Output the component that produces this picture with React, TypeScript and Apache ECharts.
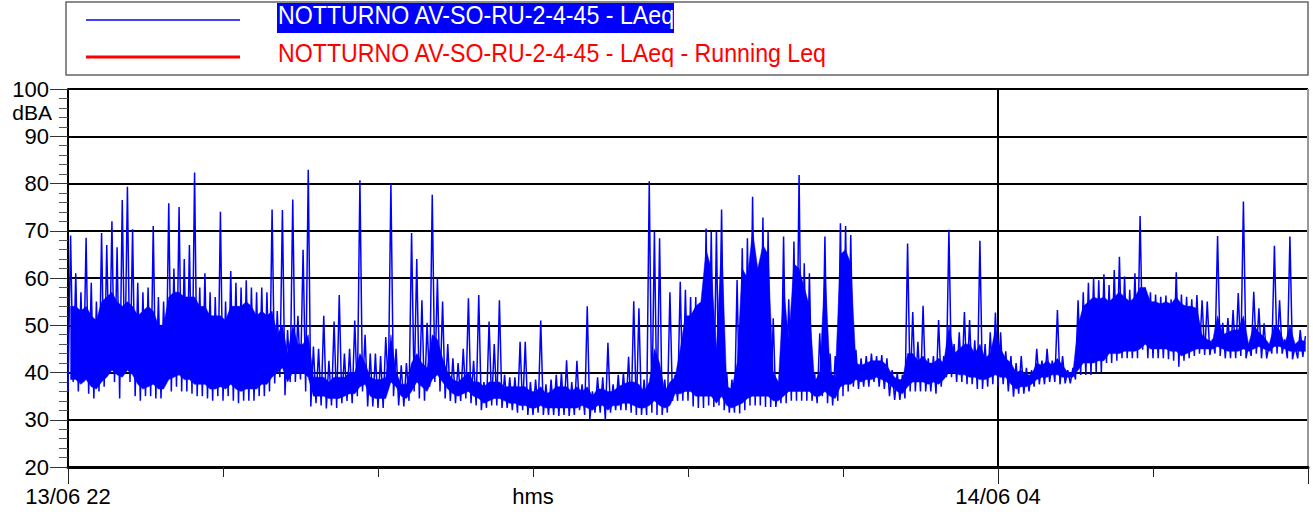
import React, { useEffect, useRef } from "react";
import * as echarts from "echarts";

// Envelope of the LAeq trace, read per 2-minute column starting 13/06 22:00 (dBA)
// hiVals / loVals: extreme peaks and dips; coreHi / coreLo: the solid, densely filled band
const hiVals = [
  69, 61, 57, 68.5, 59, 55, 69.5, 67, 72, 66.5,
  76.5, 79.3, 70.3, 59, 57, 58, 71, 56, 55, 75.8,
  62, 75, 64, 67, 82.3, 58, 61, 57, 56, 74,
  55, 61.5, 59, 58, 59.5, 58, 57, 58, 57, 74.5,
  53, 74.4, 49, 76.6, 52, 66, 82.9, 45.5, 45, 52,
  42.5, 50.8, 56.4, 44, 45, 51, 80.7, 48, 44, 44,
  43.5, 47.5, 80, 45, 41.5, 42, 69.5, 64, 55.3, 50.5,
  77.6, 60, 55, 46, 43, 42, 45, 55.7, 42.5, 56.4,
  38, 50.8, 46, 55.3, 39.5, 39, 39, 46.5, 46.5, 38,
  38.5, 51, 37.5, 38.5, 39.5, 40, 42.6, 38, 42.5, 37.5,
  54, 36, 39, 39, 46.3, 37.5, 39.5, 40, 43.3, 55.1,
  53.6, 38.5, 80.5, 69.8, 68.4, 38.5, 57, 39.5, 59.2, 57.5,
  56,
  56, 51.8, 70.5, 69.8, 70, 74.5, 40, 38.5, 59.6, 66.3,
  68.4, 77.2, 61, 72.8, 69.8, 51.5, 38, 68.8, 55.5, 67.7,
  81.8, 63.1, 61, 40, 48.3, 68.8, 44, 43.5, 71.6, 71,
  69.1, 44.8, 43, 43.5, 44, 43.5, 43.7, 43, 40.5, 40,
  39.5, 67.3, 52.8, 46.5, 54.1, 43, 43.5, 51.1, 43.5, 70.2,
  46, 48.5, 52.8, 51.1, 46.8, 67.9, 46, 48.5, 52.7, 48.5,
  44.5, 43.5, 42, 43.5, 41, 40.5, 45, 42.5, 45, 42.5,
  53.2, 43.5, 40.5, 41, 55.3, 57, 59, 60.1, 59.5, 60.8,
  58.5, 61.7, 64.5, 60.3, 57.5, 61, 73.1, 58, 57, 56.5,
  56, 56.3, 55.5, 61.2, 56.5, 56, 55.5, 56.4, 55.3, 55,
  47, 68.9, 50.5, 51.5, 53.2, 56.8, 76.2, 46, 57.1, 53.6,
  50.4, 46, 66.8, 55.3, 47, 68.8, 45.5, 49, 47.7,
];

const loVals = [
  36, 38, 36, 38, 35.5, 34.5, 36, 37, 40, 38,
  34.5, 40, 38, 35, 34, 35, 35, 34.5, 34.5, 38,
  36, 37, 36, 36, 35.5, 35, 35, 34.5, 34, 35,
  34, 35, 34, 33.5, 34, 34, 34, 35, 35, 36,
  37.7, 39, 35.2, 38, 38, 38.5, 36, 32.8, 33.5, 33,
  32.4, 33, 32.5, 33.5, 34, 33.5, 35, 36, 32.8, 32.8,
  32.5, 32.5, 37, 35, 33, 32.8, 34, 36, 34.5, 34,
  37, 38, 36, 34.5, 34, 33.5, 34, 34.5, 33.5, 33,
  32, 32.5, 33, 33, 32.5, 32.5, 32, 31.5, 32, 31,
  31, 31.5, 31, 31, 31, 30.8, 31, 30.8, 31, 32,
  31, 30, 31.5, 31.5, 30, 31.5, 32, 32, 32, 31.5,
  31, 31, 31, 31.5, 31, 31, 31.5, 34, 34, 34,
  34,
  32.8, 32.5, 32.5, 33, 32.7, 33, 32, 31.5, 31.5, 31.3,
  32, 33, 33, 33, 32.7, 32.7, 32.7, 33.5, 33.5, 34,
  34, 34, 34, 34, 33.5, 35, 33.5, 33, 34, 35,
  36, 37, 36.5, 37, 37, 38, 37, 36.5, 35, 34.2,
  34.2, 34.5, 36, 36, 36, 36, 36, 35.5, 37, 39,
  39, 38, 38, 37.5, 37.5, 36.5, 36.5, 37, 37.5, 37,
  37.5, 36, 34.9, 35.5, 35.5, 36, 37, 37.5, 37.5, 38,
  38, 37.5, 37.7, 37.7, 38.5, 39.5, 39.5, 39.5, 40, 40,
  42, 42, 42.5, 43, 43, 43, 43, 44.8, 43, 43,
  43, 43, 42.8, 42.5, 41.2, 42.5, 43, 43.5, 44, 43.7,
  43.7, 44, 43.5, 43, 43, 43, 43.5, 43, 43.5, 44,
  43, 43, 44, 44, 44, 43, 42.8, 43, 43.3,
];

const coreLo = [
  38.5, 38.5, 37.5, 38.5, 37, 36.5, 38, 39, 40.5, 39.5,
  39, 40.5, 39.5, 37.5, 36.5, 37, 37.5, 36.5, 36.5, 38.5,
  39, 39.5, 38.5, 38.5, 37.5, 37.5, 37.5, 36.5, 36.5, 37,
  36.5, 37.5, 36.5, 36, 36.5, 36.5, 36.5, 37.5, 37.5, 39,
  40, 41, 38, 40, 40, 40, 39, 35, 35, 35,
  34.5, 34.5, 34.5, 35, 35.5, 35.5, 37, 37.5, 35, 34.5,
  34.5, 34.5, 38, 37, 35, 34.5, 36, 38, 37, 36,
  38.5, 39.5, 38, 36.5, 35.5, 35, 35.5, 36, 35, 34.5,
  33.5, 34, 34.5, 34.5, 34, 33.5, 33.5, 33, 33, 32.5,
  32.5, 33, 32.5, 32.5, 32.5, 32.5, 32.5, 32.5, 32.5, 33,
  32.5, 32, 33, 33, 32, 33, 33, 33.5, 33.5, 33,
  32.5, 32.5, 33, 34, 33, 32.5, 33, 35.5, 35.5, 36,
  36,
  35, 35, 35, 35, 33.5, 35, 33, 32.5, 33, 33.5,
  34.5, 35, 35, 35, 35, 34, 34, 35, 36, 36,
  36, 36, 36, 35, 35, 36, 35, 34.5, 37, 37.5,
  37.5, 38.5, 38, 38.5, 38.5, 39, 38.5, 38, 37, 36,
  35.5, 37, 38, 38, 38, 37.5, 38, 37.5, 38.5, 40,
  40, 39.5, 39.5, 39, 39, 38.5, 38.5, 39, 39.5, 39,
  39, 37.5, 36.5, 37, 37, 37.5, 38.5, 39, 39, 39.5,
  39.5, 39, 39, 39, 40.5, 42, 42, 42, 42.5, 42.5,
  44, 44, 44, 44.5, 44.5, 44.5, 45, 46, 45, 45,
  45, 45, 44.5, 44.5, 43.5, 44, 44.5, 45, 45, 45,
  45, 45.5, 45, 44.5, 44.5, 44.5, 45, 44.5, 45, 45.5,
  45, 44.5, 45.5, 45.5, 45, 44.5, 44.5, 44.5, 44.5,
];

const coreHi = [
  54, 54, 53, 54, 52, 51, 55, 56, 57, 55,
  54, 55, 54, 52, 53, 54, 53, 50, 50, 56,
  57, 57, 56, 56, 56, 54, 54, 52, 52, 52,
  51, 54, 54, 54, 55, 54, 52, 53, 52, 53,
  48, 50, 44, 50, 46, 46, 48, 39, 39, 39,
  38, 39, 39, 39, 40, 40, 44, 42, 39, 38.5,
  38.5, 39, 48, 40, 37.5, 37.5, 42, 44, 42, 41,
  48, 47, 43, 40, 38.5, 38, 39, 40, 38, 38,
  37, 38, 38, 38, 37, 37, 37, 37, 37, 36,
  36, 37, 35.5, 36, 37, 37, 37, 36, 37, 36,
  37, 35, 36.5, 36.5, 36, 36, 37, 37.5, 38, 38,
  37.5, 36, 38, 45, 42, 36, 38, 39, 45, 52,
  52,
  54, 55, 66, 62, 45, 68, 37, 36.5, 42, 62,
  60, 70, 62, 67, 65, 40, 38, 58, 47, 63,
  62, 58, 54, 38, 40, 62, 40, 39, 65, 66,
  63, 42, 41.5, 42, 42.5, 42.5, 42.5, 41.5, 39.5, 38.5,
  38.5, 44, 44, 42.5, 43.5, 42, 42, 43, 42, 50,
  44, 45, 46, 46, 44, 46, 43, 44, 49, 45,
  43, 42, 40, 40.5, 39.5, 39.5, 42, 41.5, 42.5, 41.5,
  43, 41.5, 40, 40, 50, 54, 55, 56, 55.5, 56,
  55, 56, 57, 56, 55, 56, 58, 58, 55, 55,
  54.5, 55, 54.5, 56, 54.5, 54, 54, 53.5, 48, 47,
  46.5, 52, 48, 48.5, 49, 49, 52, 46, 50, 48.5,
  47.5, 46, 50, 49, 46, 50, 46, 47, 46.5,
];

const columnMinutes = 2;
const xLabelMinutes = [0, 180, 360];
const xLabelTexts = ["13/06 22", "hms", "14/06 04"];
const seriesName = "NOTTURNO AV-SO-RU-2-4-45 - LAeq";
const runningName = "NOTTURNO AV-SO-RU-2-4-45 - LAeq - Running Leq";
const yUnit = "dBA";

const FONT = "'Liberation Sans', Arial, Helvetica, sans-serif";
const BLUE = "#0000ff";

export default function App() {
  const ref = useRef<HTMLDivElement>(null);

  useEffect(() => {
    if (!ref.current) return;
    const chart = echarts.init(ref.current, undefined, { renderer: "svg" });

    const traceData: [number, number][] = [];
    for (let k = 0; k < hiVals.length; k++) {
      traceData.push([k * columnMinutes, loVals[k]]);
      traceData.push([k * columnMinutes + columnMinutes / 2, hiVals[k]]);
    }
    // one row per column: [x, coreLo, coreHi]
    const bandRows: [number, number, number][] = coreLo.map((v, k) => [
      k * columnMinutes + columnMinutes / 2,
      v,
      coreHi[k],
    ]);

    chart.setOption({
      animation: false,
      backgroundColor: "#ffffff",
      textStyle: { fontFamily: FONT },
      grid: { left: 68, right: 5, top: 89, bottom: 48, containLabel: false },
      xAxis: [
        {
          type: "value",
          min: 0,
          max: 480,
          interval: 60,
          axisLine: { show: true, onZero: false, lineStyle: { color: "#000", width: 3 } },
          axisTick: { show: true, length: 10, lineStyle: { color: "#222", width: 1 } },
          axisLabel: {
            show: true,
            margin: 18,
            fontSize: 22,
            color: "#000",
            fontFamily: FONT,
            formatter: (v: number) => {
              const i = xLabelMinutes.indexOf(v);
              return i >= 0 ? xLabelTexts[i] : "";
            },
          },
          splitLine: { show: false },
        },
        {
          type: "value",
          min: 0,
          max: 480,
          interval: 360,
          position: "bottom",
          axisLine: { show: false },
          axisTick: { show: true, length: 17, lineStyle: { color: "#222", width: 1 } },
          axisLabel: { show: false },
          splitLine: { show: true, lineStyle: { color: ["#000", "#000", "#999"], width: 2 } },
        },
      ],
      yAxis: {
        type: "value",
        min: 20,
        max: 100,
        interval: 10,
        axisLine: { show: true, lineStyle: { color: "#000", width: 2 } },
        axisTick: { show: true, length: 18, lineStyle: { color: "#333", width: 1 } },
        minorTick: { show: true, splitNumber: 5, length: 9, lineStyle: { color: "#555", width: 1 } },
        axisLabel: { margin: 19, fontSize: 22, color: "#000", fontFamily: FONT },
        splitLine: { show: true, lineStyle: { color: "#000", width: 2 } },
      },
      series: [
        {
          name: "band",
          type: "custom",
          xAxisIndex: 0,
          data: [[0]],
          silent: true,
          clip: true,
          z: 2,
          renderItem: (_params: any, api: any) => {
            const upper = bandRows.map((r) => api.coord([r[0], r[2]]));
            const lower = bandRows
              .slice()
              .reverse()
              .map((r) => api.coord([r[0], r[1]]));
            return {
              type: "polygon",
              shape: { points: upper.concat(lower) },
              style: { fill: BLUE, stroke: BLUE, lineWidth: 0.5 },
            };
          },
        },
        {
          name: seriesName,
          type: "line",
          xAxisIndex: 0,
          data: traceData,
          showSymbol: false,
          symbol: "none",
          lineStyle: { color: BLUE, width: 1.5 },
          z: 3,
        },
      ],
      graphic: [
        {
          type: "rect",
          shape: { x: 66, y: 2, width: 1242, height: 73 },
          style: { fill: "#fff", stroke: "#666", lineWidth: 1.5 },
          z: 10,
        },
        {
          type: "line",
          shape: { x1: 86, y1: 20, x2: 240, y2: 20 },
          style: { stroke: BLUE, lineWidth: 1.5 },
          z: 11,
        },
        {
          type: "line",
          shape: { x1: 86, y1: 57, x2: 240, y2: 57 },
          style: { stroke: "#ff0000", lineWidth: 3 },
          z: 11,
        },
        {
          type: "rect",
          shape: { x: 277, y: 3, width: 397, height: 30 },
          style: { fill: BLUE },
          z: 11,
        },
        {
          type: "text",
          x: 278,
          y: 15,
          scaleX: 0.927,
          style: {
            text: seriesName,
            fill: "#fff",
            font: `25px ${FONT}`,
            textAlign: "left",
            textVerticalAlign: "middle",
          },
          z: 12,
        },
        {
          type: "text",
          x: 278,
          y: 53,
          scaleX: 0.927,
          style: {
            text: runningName,
            fill: "#ff0000",
            font: `25px ${FONT}`,
            textAlign: "left",
            textVerticalAlign: "middle",
          },
          z: 12,
        },
        {
          type: "text",
          x: 52,
          y: 112,
          style: {
            text: yUnit,
            fill: "#000",
            font: `21px ${FONT}`,
            textAlign: "right",
            textVerticalAlign: "middle",
          },
          z: 12,
        },
      ],
    });

    return () => chart.dispose();
  }, []);

  return (
    <div
      ref={ref}
      style={{ position: "fixed", left: 0, top: 0, width: 1313, height: 515 }}
    />
  );
}
